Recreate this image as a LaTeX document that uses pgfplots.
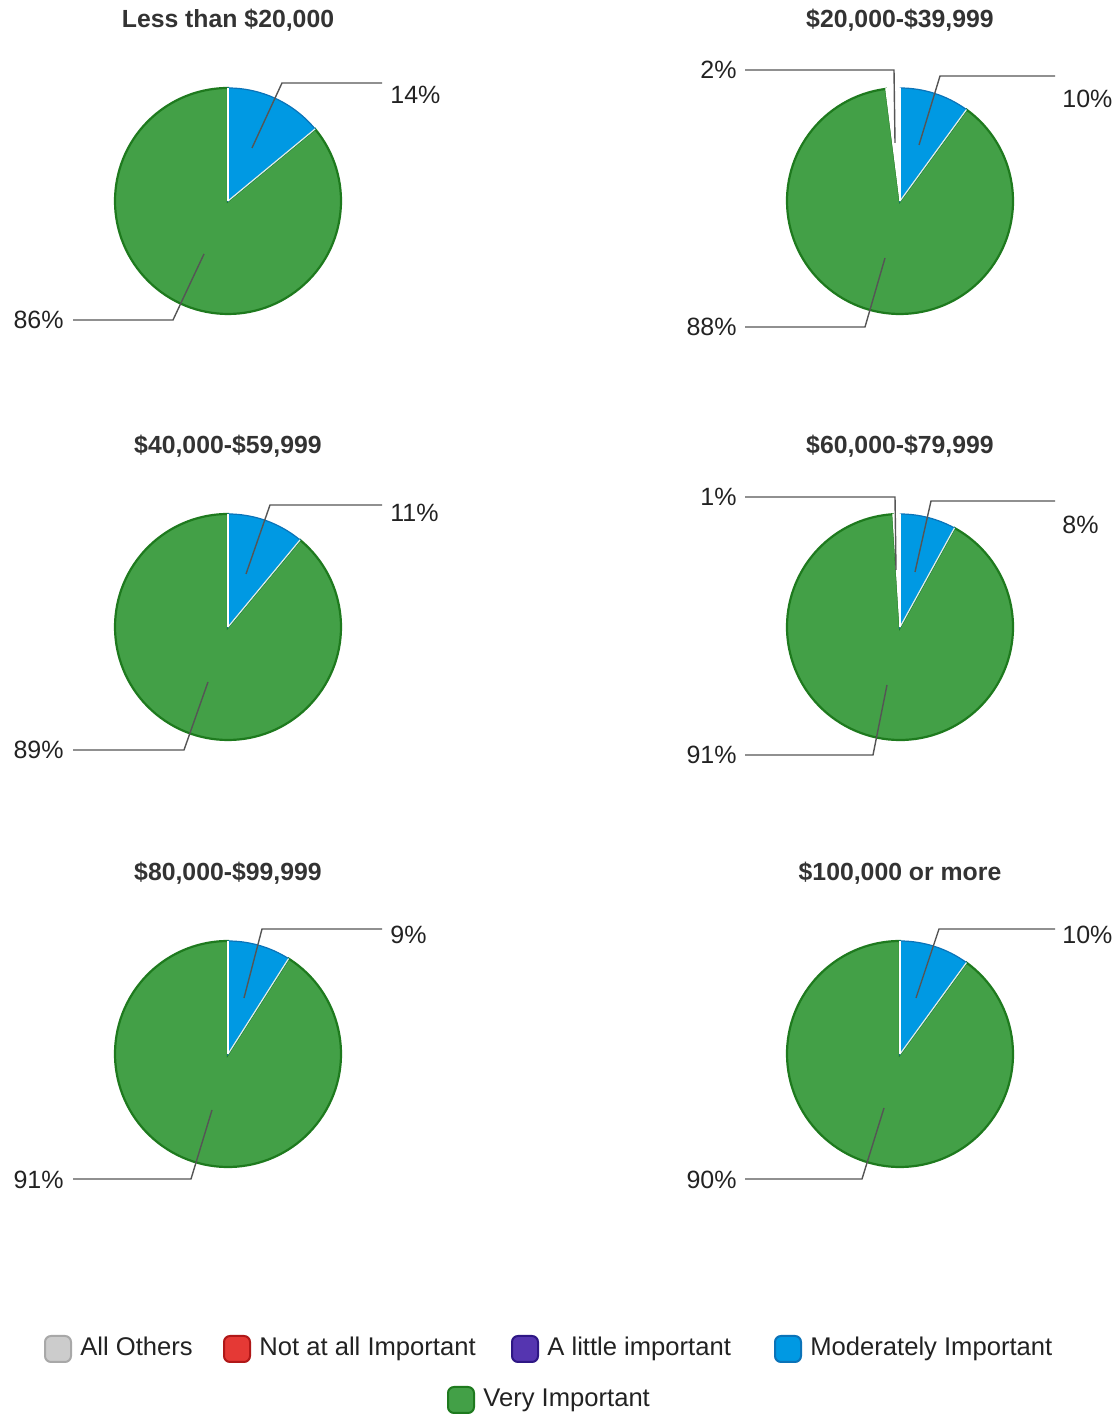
\documentclass[border=0pt]{standalone}
\usepackage{fontspec}
\setmainfont{Liberation Sans}
\usepackage{pgfplots}
\pgfplotsset{compat=1.18}
\definecolor{cBlue}{HTML}{0099E3}
\definecolor{cBlueD}{HTML}{0B73B8}
\definecolor{cGreen}{HTML}{43A047}
\definecolor{cGreenD}{HTML}{1E7A1E}
\definecolor{cGray}{HTML}{CCCCCC}
\definecolor{cGrayD}{HTML}{A8A8A8}
\definecolor{cRed}{HTML}{E53935}
\definecolor{cRedD}{HTML}{B01818}
\definecolor{cPurple}{HTML}{5535B0}
\definecolor{cPurpleD}{HTML}{2E1785}
\definecolor{cText}{HTML}{222222}
\definecolor{cTitle}{HTML}{333333}
\definecolor{cLead}{HTML}{555555}
\newcommand{\R}{56.5bp}
% #1 cx, #2 cy, #3 blue pct, #4 green pct, #5 others pct
\newcommand{\pie}[5]{%
  \fill[cGreen, draw=cGreenD, line width=1.1bp] (axis cs:#1,#2) -- ++({90-#3*3.6}:\R) arc[start angle={90-#3*3.6}, delta angle={-#4*3.6}, radius=\R] -- cycle;
  \fill[cBlue, draw=cBlueD, line width=0.6bp] (axis cs:#1,#2) -- ++(90:\R) arc[start angle=90, delta angle={-#3*3.6}, radius=\R] -- cycle;
  \draw[white!85!cGreen, line width=0.6bp] (axis cs:#1,#2) -- ++({90-#3*3.6}:\R);
  \draw[white, line width=0.6bp] (axis cs:#1,#2) -- ++(90:\R);
}
% #1 cx, #2 cy, #3 blue pct, #4 green pct, #5 others pct
\newcommand{\others}[5]{%
  \fill[white, draw=white, line width=0.6bp] (axis cs:#1,#2) -- ++({90-(#3+#4)*3.6}:\R) arc[start angle={90-(#3+#4)*3.6}, delta angle={-#5*3.6}, radius=\R] -- cycle;
}
\tikzset{lead/.style={cLead, line width=0.7bp},
  lab/.style={font=\fontsize{12.5bp}{14bp}\selectfont, text=cText, inner sep=0pt, text height=9bp, text depth=0bp},
  ttl/.style={font=\fontsize{12.4bp}{14bp}\selectfont\bfseries, text=cTitle, inner sep=0pt},
  leg/.style={font=\fontsize{12.8bp}{14bp}\selectfont, text=cText, inner sep=0pt, anchor=west, text height=9.2bp, text depth=2.6bp},
  box/.style={minimum size=13bp, inner sep=0pt, rounded corners=3bp, line width=1bp}}
\begin{document}
\begin{tikzpicture}
\begin{axis}[width=560bp, height=709bp, scale only axis, xmin=0, xmax=1120, ymin=0, ymax=1418, hide axis, clip=false]
\path (axis cs:0,0) (axis cs:1120,1418);
% data: blue (Moderately Important), green (Very Important), gray (All Others)
\pie{228}{1217}{14}{86}{0}
\pie{900}{1217}{10}{88}{2}
\others{900}{1217}{10}{88}{2}
\pie{228}{791}{11}{89}{0}
\pie{900}{791}{8}{91}{1}
\others{900}{791}{8}{91}{1}
\pie{228}{364}{9}{91}{0}
\pie{900}{364}{10}{90}{0}
% titles
\node[ttl] at (axis cs:228,1398) {Less than \$20,000};
\node[ttl] at (axis cs:900,1398) {\$20,000-\$39,999};
\node[ttl] at (axis cs:228,972) {\$40,000-\$59,999};
\node[ttl] at (axis cs:900,972) {\$60,000-\$79,999};
\node[ttl] at (axis cs:228,545) {\$80,000-\$99,999};
\node[ttl] at (axis cs:900,545) {\$100,000 or more};
% leaders and labels
\draw[lead] (axis cs:252,1270) -- (axis cs:282,1335) -- (axis cs:382,1335);
\node[lab, anchor=west] at (axis cs:390,1323) {14\%};
\draw[lead] (axis cs:204,1164) -- (axis cs:173,1098) -- (axis cs:73,1098);
\node[lab, anchor=east] at (axis cs:64,1098) {86\%};
\draw[lead] (axis cs:895,1275) -- (axis cs:894,1348) -- (axis cs:745,1348);
\node[lab, anchor=east] at (axis cs:737,1348) {2\%};
\draw[lead] (axis cs:919,1273) -- (axis cs:940,1342) -- (axis cs:1055,1342);
\node[lab, anchor=west] at (axis cs:1062,1319) {10\%};
\draw[lead] (axis cs:885,1160) -- (axis cs:865,1091) -- (axis cs:745,1091);
\node[lab, anchor=east] at (axis cs:737,1091) {88\%};
\draw[lead] (axis cs:246,844) -- (axis cs:270,913) -- (axis cs:382,913);
\node[lab, anchor=west] at (axis cs:390,905) {11\%};
\draw[lead] (axis cs:208,736) -- (axis cs:184,668) -- (axis cs:73,668);
\node[lab, anchor=east] at (axis cs:64,668) {89\%};
\draw[lead] (axis cs:896,848) -- (axis cs:895,921) -- (axis cs:745,921);
\node[lab, anchor=east] at (axis cs:737,921) {1\%};
\draw[lead] (axis cs:915,846) -- (axis cs:931,917) -- (axis cs:1055,917);
\node[lab, anchor=west] at (axis cs:1062,893) {8\%};
\draw[lead] (axis cs:887,733) -- (axis cs:873,663) -- (axis cs:745,663);
\node[lab, anchor=east] at (axis cs:737,663) {91\%};
\draw[lead] (axis cs:244,420) -- (axis cs:262,489) -- (axis cs:382,489);
\node[lab, anchor=west] at (axis cs:390,483) {9\%};
\draw[lead] (axis cs:212,308) -- (axis cs:191,239) -- (axis cs:73,239);
\node[lab, anchor=east] at (axis cs:64,238) {91\%};
\draw[lead] (axis cs:916,420) -- (axis cs:939,489) -- (axis cs:1055,489);
\node[lab, anchor=west] at (axis cs:1062,483) {10\%};
\draw[lead] (axis cs:884,310) -- (axis cs:862,239) -- (axis cs:745,239);
\node[lab, anchor=east] at (axis cs:737,238) {90\%};
% legend
\node[box, fill=cGray, draw=cGrayD] at (axis cs:58,69) {};
\node[leg] at (axis cs:80,69) {All Others};
\node[box, fill=cRed, draw=cRedD] at (axis cs:237,69) {};
\node[leg] at (axis cs:259,69) {Not at all Important};
\node[box, fill=cPurple, draw=cPurpleD] at (axis cs:525,69) {};
\node[leg] at (axis cs:547,69) {A little important};
\node[box, fill=cBlue, draw=cBlueD] at (axis cs:788,69) {};
\node[leg] at (axis cs:810,69) {Moderately Important};
\node[box, fill=cGreen, draw=cGreenD] at (axis cs:461,18) {};
\node[leg] at (axis cs:483,18) {Very Important};
\end{axis}
\end{tikzpicture}
\end{document}
